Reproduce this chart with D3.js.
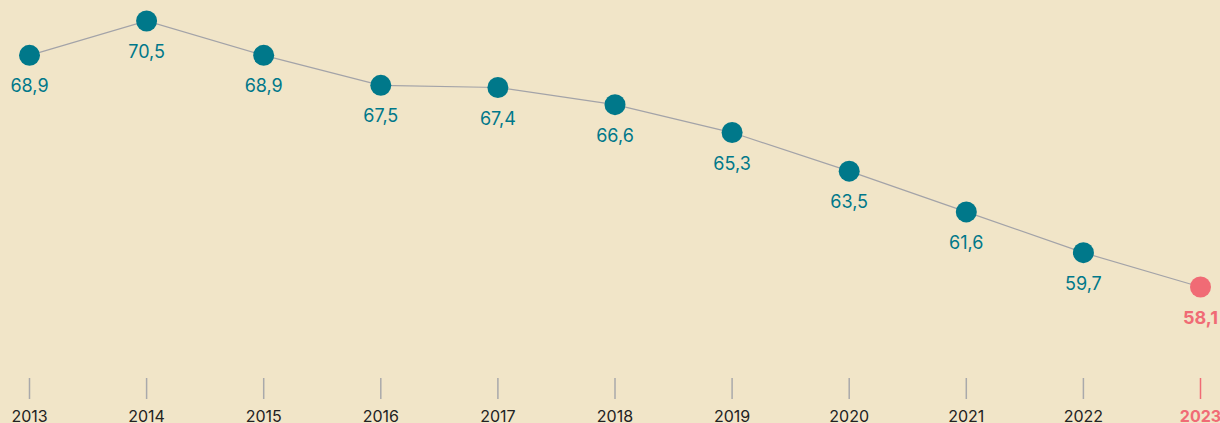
<!DOCTYPE html>
<html>
<head>
<meta charset="utf-8">
<script src="https://cdn.jsdelivr.net/npm/d3@7"></script>
<style>
  body { margin: 0; background: #f1e5c8; }
  svg { display: block; }
</style>
</head>
<body>
<div id="chart"></div>
<script>
var years = ["2013", "2014", "2015", "2016", "2017", "2018", "2019", "2020", "2021", "2022", "2023"];
var values = [68.9, 70.5, 68.9, 67.5, 67.4, 66.6, 65.3, 63.5, 61.6, 59.7, 58.1];

var width = 1220, height = 423;
var teal = "#00788a", red = "#f06b75";

var svg = d3.select("#chart").append("svg")
    .attr("width", width)
    .attr("height", height);

var x = d3.scalePoint()
    .domain(years)
    .range([29.5, 1200.5]);

var y = d3.scaleLinear()
    .domain([58.1, 70.5])
    .range([287, 21]);

var data = years.map(function(d, i) { return {year: d, value: values[i]}; });
var last = years[years.length - 1];

// axis ticks
var axis = svg.append("g").attr("class", "axis");
axis.selectAll("line").data(years).enter()
  .append("line")
  .attr("x1", function(d) { return x(d); })
  .attr("x2", function(d) { return x(d); })
  .attr("y1", 378)
  .attr("y2", 399)
  .style("stroke", function(d) { return d == last ? red : "#a9a9ab"; })
  .style("stroke-width", 1.5);

axis.selectAll("text").data(years).enter()
  .append("text")
  .attr("x", function(d) { return x(d); })
  .attr("y", 422)
  .attr("text-anchor", "middle")
  .style("font-family", "Inter, 'Noto Sans', sans-serif")
  .style("font-size", "16px")
  .style("font-weight", function(d) { return d == last ? 700 : 400; })
  .style("fill", function(d) { return d == last ? red : "#222"; })
  .text(function(d) { return d; });

// line
var line = d3.line()
    .x(function(d) { return x(d.year); })
    .y(function(d) { return y(d.value); });

svg.append("path")
  .datum(data)
  .attr("d", line)
  .style("fill", "none")
  .style("stroke", "#a3a3a8")
  .style("stroke-width", 1.2);

// points
svg.selectAll("circle.pt").data(data).enter()
  .append("circle")
  .attr("class", "pt")
  .attr("cx", function(d) { return x(d.year); })
  .attr("cy", function(d) { return y(d.value); })
  .attr("r", 10.5)
  .style("fill", function(d) { return d.year == last ? red : teal; });

// value labels
svg.selectAll("text.val").data(data).enter()
  .append("text")
  .attr("class", "val")
  .attr("x", function(d) { return x(d.year); })
  .attr("y", function(d) { return y(d.value) + 37; })
  .attr("text-anchor", "middle")
  .style("font-family", "Inter, 'Noto Sans', sans-serif")
  .style("font-size", "18px")
  .style("font-weight", function(d) { return d.year == last ? 700 : 400; })
  .style("fill", function(d) { return d.year == last ? red : teal; })
  .text(function(d) { return String(d.value).replace(".", ","); });
</script>
</body>
</html>
